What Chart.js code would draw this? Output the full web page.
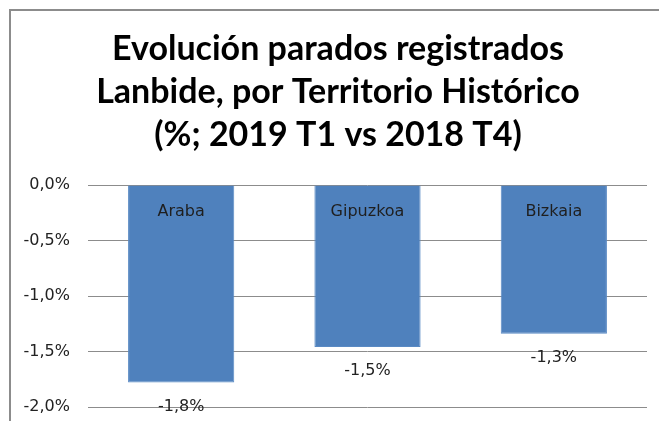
<!DOCTYPE html>
<html>
<head>
<meta charset="utf-8">
<script src="https://cdn.jsdelivr.net/npm/chart.js@4"></script>
<style>
    html, body { margin: 0; padding: 0; background: #fff; }
    .frame {
        position: absolute; left: 9px; top: 9px; width: 700px; height: 500px;
        border-left: 2px solid #8c8c8c; border-top: 2px solid #8c8c8c;
    }
    #wrap { position: absolute; left: 0; top: 0; width: 659px; height: 421px; }
</style>
</head>
<body>
<div class="frame"></div>
<div id="wrap"><canvas id="chart" width="659" height="421"></canvas></div>
<script>
const titleLines = [
    'Evolución parados registrados',
    'Lanbide, por Territorio Histórico',
    '(%; 2019 T1 vs 2018 T4)'
];
const territories = ['Araba', 'Gipuzkoa', 'Bizkaia'];
const changePct = [-1.78, -1.46, -1.34];
const yTicks = [0, -0.5, -1.0, -1.5, -2.0];

const fmtPct = v => v.toFixed(1).replace('.', ',') + '%';

// Title, category names inside the bars and value labels below them
const labelsPlugin = {
    id: 'labels',
    afterDraw(chart) {
        const ctx = chart.ctx;
        const y = chart.scales.y;
        ctx.save();
        ctx.textAlign = 'center';
        ctx.textBaseline = 'middle';
        ctx.fillStyle = '#000';
        ctx.font = 'bold 34px Lato';
        titleLines.forEach((line, i) => ctx.fillText(line, 338, 49 + i * 43));

        const meta = chart.getDatasetMeta(0);
        ctx.font = '16px "DejaVu Sans"';
        meta.data.forEach((bar, i) => {
            ctx.fillStyle = '#1f1f1f';
            ctx.fillText(territories[i], bar.x, y.getPixelForValue(0) + 27);
            ctx.fillStyle = '#222';
            ctx.fillText(fmtPct(changePct[i]), bar.x, bar.y + 24);
        });
        ctx.restore();
    }
};

new Chart(document.getElementById('chart'), {
    type: 'bar',
    data: {
        labels: territories,
        datasets: [{
            data: changePct,
            backgroundColor: '#4f81bd',
            borderColor: '#5a8ac4',
            borderWidth: 1,
            barPercentage: 0.57,
            categoryPercentage: 1
        }]
    },
    options: {
        responsive: false,
        animation: false,
        layout: { padding: { top: 185, left: 10, right: 12, bottom: 14 } },
        plugins: { legend: { display: false }, tooltip: { enabled: false }, title: { display: false } },
        scales: {
            x: { display: false },
            y: {
                min: -2, max: 0,
                afterBuildTicks: scale => { scale.ticks = yTicks.map(v => ({ value: v })); },
                afterFit: scale => {
                    scale.width = 78;
                    scale.paddingTop = 0;
                    scale.paddingBottom = 0;
                },
                border: { display: false },
                grid: { color: '#8c8c8c', lineWidth: 1, drawTicks: false },
                ticks: {
                    padding: 18,
                    color: '#222',
                    font: { family: 'DejaVu Sans', size: 16 },
                    callback: v => fmtPct(v)
                }
            }
        }
    },
    plugins: [labelsPlugin]
});
</script>
</body>
</html>
